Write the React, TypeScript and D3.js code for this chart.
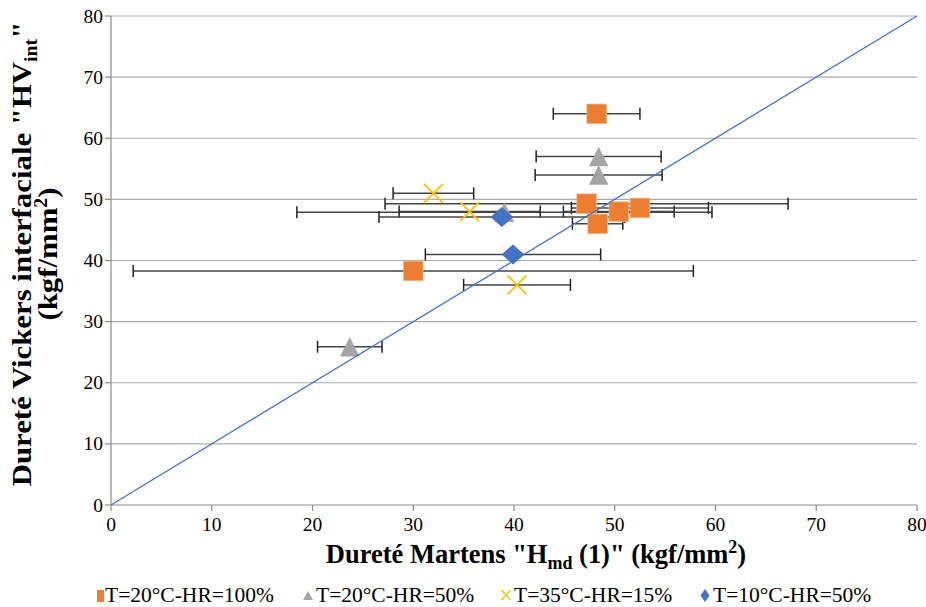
import React from "react";
import * as d3 from "d3";

const seriesNames = ["T=20°C-HR=100%", "T=20°C-HR=50%", "T=35°C-HR=15%", "T=10°C-HR=50%"];
const seriesColors = ["#ED7D31", "#A5A5A5", "#FFC000", "#4472C4"];

const s1X = [48.2, 30.0, 47.2, 50.4, 52.5, 48.3];
const s1Y = [64.0, 38.3, 49.3, 48.0, 48.6, 46.0];
const s1Err = [4.3, 27.8, 20.0, 5.5, 6.8, 2.5];

const s2X = [48.4, 48.4, 23.7, 39.05];
const s2Y = [57.0, 54.0, 25.9, 47.9];
const s2Err = [6.2, 6.3, 3.2, 20.6];

const s3X = [32.0, 35.6, 40.3];
const s3Y = [51.0, 48.0, 36.0];
const s3Err = [4.0, 7.0, 5.3];

const s4X = [38.8, 39.9];
const s4Y = [47.1, 41.0];
const s4Err = [12.2, 8.7];

const xTicks = [0, 10, 20, 30, 40, 50, 60, 70, 80];
const yTicks = [0, 10, 20, 30, 40, 50, 60, 70, 80];
const diagX = [0, 80];

const W = 926, H = 607;
const L = 111, R = 917, T = 16, B = 505;
const FONT = "'Liberation Serif', 'Times New Roman', serif";

function Txt({ x, y, anchor = "start", size, bold = false, sy = 1, children }: any) {
  return (
    <g transform={`translate(${x},${y}) scale(1,${sy})`}>
      <text x={0} y={0} textAnchor={anchor} fontSize={size} fontWeight={bold ? "bold" : "normal"} fontFamily={FONT} fill="#000">
        {children}
      </text>
    </g>
  );
}

function Marker({ kind, cx, cy, s }: any) {
  const c = seriesColors[kind];
  if (kind === 0) {
    return <rect x={cx - s / 2} y={cy - s / 2} width={s} height={s} fill={c} stroke="#F4B183" strokeWidth={0.8} />;
  }
  if (kind === 1) {
    const h = s;
    return <path d={`M${cx},${cy - h / 2} L${cx + s / 2},${cy + h / 2} L${cx - s / 2},${cy + h / 2} Z`} fill={c} />;
  }
  if (kind === 2) {
    const r = s / 2;
    return <path d={`M${cx - r},${cy - r} L${cx + r},${cy + r} M${cx - r},${cy + r} L${cx + r},${cy - r}`} stroke={c} strokeWidth={1.8} fill="none" />;
  }
  const rw = s * 0.57, rh = s / 2;
  return <path d={`M${cx},${cy - rh} L${cx + rw},${cy} L${cx},${cy + rh} L${cx - rw},${cy} Z`} fill={c} />;
}

export default function App() {
  const x = d3.scaleLinear().domain([0, 80]).range([L, R]);
  const y = d3.scaleLinear().domain([0, 80]).range([B, T]);

  const series = [
    { xs: s1X, ys: s1Y, es: s1Err },
    { xs: s2X, ys: s2Y, es: s2Err },
    { xs: s3X, ys: s3Y, es: s3Err },
    { xs: s4X, ys: s4Y, es: s4Err },
  ];
  const sizes = [19.5, 19.5, 19, 20];

  const line = d3.line<number>().x((d) => x(d)).y((d) => y(d));

  const legendTextX = [105, 316, 514, 713];
  const legendMarkX = [100.5, 308, 506, 705];

  return (
    <svg width={W} height={H} style={{ position: "absolute", left: 0, top: 0, background: "#fff" }}>
      <rect width={W} height={H} fill="#fff" />
      {/* gridlines */}
      {yTicks.filter((t) => t > 0).map((t) => (
        <line key={"g" + t} x1={L} x2={R} y1={y(t)} y2={y(t)} stroke="#ABABAB" strokeWidth={1.2} />
      ))}
      {/* axes */}
      <line x1={L} x2={L} y1={T} y2={B} stroke="#8C8C8C" strokeWidth={1.2} />
      <line x1={L} x2={R} y1={B} y2={B} stroke="#8C8C8C" strokeWidth={1.2} />
      {yTicks.map((t) => (
        <line key={"yt" + t} x1={L - 6} x2={L} y1={y(t)} y2={y(t)} stroke="#8C8C8C" strokeWidth={1.2} />
      ))}
      {xTicks.map((t) => (
        <line key={"xt" + t} x1={x(t)} x2={x(t)} y1={B} y2={B + 6} stroke="#8C8C8C" strokeWidth={1.2} />
      ))}
      {yTicks.map((t) => (
        <Txt key={"yl" + t} x={103} y={y(t) + 6.5} anchor="end" size={19.5}>{t}</Txt>
      ))}
      {xTicks.map((t) => (
        <Txt key={"xl" + t} x={x(t)} y={531} anchor="middle" size={19.5}>{t}</Txt>
      ))}

      {/* error bars */}
      {series.map((s, si) =>
        s.xs.map((xv, i) => {
          const yy = y(s.ys[i]);
          const x0 = x(xv - s.es[i]);
          const x1 = x(xv + s.es[i]);
          return (
            <g key={`e${si}-${i}`} stroke="#222" strokeWidth={1.5}>
              <line x1={x0} x2={x1} y1={yy} y2={yy} stroke="#444" />
              <line x1={x0} x2={x0} y1={yy - 6} y2={yy + 6} />
              <line x1={x1} x2={x1} y1={yy - 6} y2={yy + 6} />
            </g>
          );
        })
      )}

      {/* markers */}
      {series.map((s, si) =>
        s.xs.map((xv, i) => <Marker key={`m${si}-${i}`} kind={si} cx={x(xv)} cy={y(s.ys[i])} s={sizes[si]} />)
      )}

      {/* y = x line */}
      <path d={line(diagX) || ""} stroke="#4472C4" strokeWidth={1.3} fill="none" />

      {/* x title */}
      <Txt x={536} y={563} anchor="middle" size={26.5} sy={1.05} bold>
        Dureté Martens "H<tspan fontSize={18} dy={6}>md</tspan><tspan dy={-6}> (1)" (kgf/mm</tspan>
        <tspan fontSize={18} dy={-10}>2</tspan><tspan dy={10}>)</tspan>
      </Txt>

      {/* y title */}
      <g transform={`translate(31,254) scale(1,1.1) rotate(-90)`}>
        <text x={0} y={0} textAnchor="middle" fontSize={28} fontWeight="bold" fontFamily={FONT}>
          Dureté Vickers interfaciale "HV<tspan fontSize={18} dy={6}>int</tspan><tspan dy={-6}>"</tspan>
        </text>
      </g>
      <g transform={`translate(57,254) scale(1,1.1) rotate(-90)`}>
        <text x={0} y={0} textAnchor="middle" fontSize={28} fontWeight="bold" fontFamily={FONT}>
          (kgf/mm<tspan fontSize={18} dy={-10}>2</tspan><tspan dy={10}>)</tspan>
        </text>
      </g>

      {/* legend */}
      {seriesNames.map((n, i) => (
        <g key={"lg" + i}>
          {i === 0 && <rect x={legendMarkX[i] - 3.5} y={590} width={7} height={12} fill={seriesColors[0]} />}
          {i === 1 && <path d={`M${legendMarkX[i]},${591} L${legendMarkX[i] + 5},${600} L${legendMarkX[i] - 5},${600} Z`} fill={seriesColors[1]} />}
          {i === 2 && (
            <path d={`M${legendMarkX[i] - 4.5},${590} L${legendMarkX[i] + 4.5},${600} M${legendMarkX[i] - 4.5},${600} L${legendMarkX[i] + 4.5},${590}`} stroke={seriesColors[2]} strokeWidth={1.4} />
          )}
          {i === 3 && <path d={`M${legendMarkX[i]},${589} L${legendMarkX[i] + 4.5},${595.5} L${legendMarkX[i]},${602} L${legendMarkX[i] - 4.5},${595.5} Z`} fill={seriesColors[3]} />}
          <Txt x={legendTextX[i]} y={602} size={21.5}>{n}</Txt>
        </g>
      ))}
    </svg>
  );
}
